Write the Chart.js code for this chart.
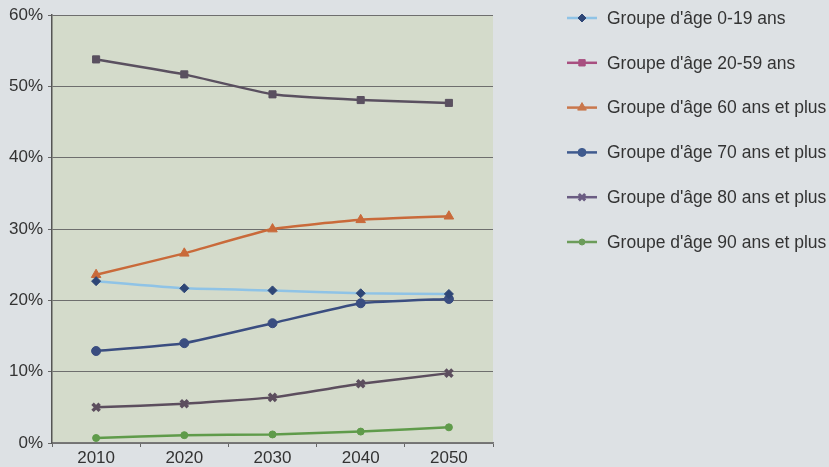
<!DOCTYPE html>
<html>
<head>
<meta charset="utf-8">
<script src="https://cdn.jsdelivr.net/npm/chart.js@4.4.1/dist/chart.umd.min.js"></script>
<style>
  html, body { margin: 0; padding: 0; background: #dde1e4; }
  #wrap { width: 829px; height: 467px; }
</style>
</head>
<body>
<div id="wrap"><canvas id="chart" width="829" height="467"></canvas></div>
<script>
/* ── Data ─────────────────────────────────────── */
const years = ['2010', '2020', '2030', '2040', '2050'];
const groupNames = [
  "Groupe d'âge 0-19 ans",
  "Groupe d'âge 20-59 ans",
  "Groupe d'âge 60 ans et plus",
  "Groupe d'âge 70 ans et plus",
  "Groupe d'âge 80 ans et plus",
  "Groupe d'âge 90 ans et plus"
];
const age0_19  = [22.7, 21.7, 21.4, 21.0, 20.9];
const age20_59 = [53.8, 51.7, 48.9, 48.1, 47.7];
const age60p   = [23.6, 26.6, 30.0, 31.3, 31.8];
const age70p   = [12.9, 14.0, 16.8, 19.6, 20.2];
const age80p   = [5.0, 5.5, 6.4, 8.3, 9.8];
const age90p   = [0.7, 1.1, 1.2, 1.6, 2.2];
const yTicks   = [0, 10, 20, 30, 40, 50, 60];

/* ── Styles ───────────────────────────────────── */
const FONT = '"Liberation Sans", Arial, sans-serif';
const lineColors   = ['#8fc3e6', '#5a5060', '#c96a3a', '#3a4d80', '#5c4e5e', '#5f9b4a'];
const markerColors = ['#2e4676', '#5a5060', '#c96a3a', '#3a4d80', '#5c4e5e', '#5f9b4a'];
const legendLine   = ['#8fc3e6', '#a84f80', '#c9774c', '#3f5a8e', '#6a5c82', '#6c9c5a'];
const legendMarker = ['#2e4676', '#a84f80', '#c9774c', '#3f5a8e', '#6a5c82', '#6c9c5a'];
const styles  = ['rectRot', 'rect', 'triangle', 'circle', 'crossRot', 'circle'];
const radii   = [4.5, 5, 5.5, 4.5, 5, 3.5];
const series  = [age0_19, age20_59, age60p, age70p, age80p, age90p];

const datasets = series.map((data, i) => ({
  label: groupNames[i],
  data,
  borderColor: lineColors[i],
  borderWidth: 2.5,
  pointStyle: styles[i],
  pointRadius: radii[i],
  pointBackgroundColor: markerColors[i],
  pointBorderColor: markerColors[i],
  pointBorderWidth: styles[i] === 'crossRot' ? 3.5 : 1,
  tension: 0.12,
  fill: false
}));

/* ── Plot background ──────────────────────────── */
const plotBg = {
  id: 'plotBg',
  beforeDraw(chart) {
    const { ctx, chartArea: a } = chart;
    ctx.save();
    ctx.fillStyle = '#d4dbcb';
    ctx.fillRect(a.left, a.top, a.right - a.left, a.bottom - a.top);
    ctx.restore();
  }
};

/* ── Legend drawn at fixed spots ──────────────── */
const sideLegend = {
  id: 'sideLegend',
  afterDraw(chart) {
    const { ctx } = chart;
    ctx.save();
    chart.data.datasets.forEach((ds, i) => {
      const y = 18 + i * 44.8;
      ctx.strokeStyle = legendLine[i];
      ctx.lineWidth = 2.5;
      ctx.beginPath();
      ctx.moveTo(567, y);
      ctx.lineTo(597, y);
      ctx.stroke();
      ctx.fillStyle = legendMarker[i];
      ctx.strokeStyle = legendMarker[i];
      ctx.lineWidth = styles[i] === 'crossRot' ? 3 : 1;
      Chart.helpers.drawPoint(ctx, { pointStyle: styles[i], radius: radii[i] - 0.5, borderWidth: ctx.lineWidth, rotation: 0 }, 582, y);
      ctx.fillStyle = '#333';
      ctx.font = '17.5px ' + FONT;
      ctx.textBaseline = 'middle';
      ctx.textAlign = 'left';
      ctx.fillText(ds.label, 607, y + 1);
    });
    ctx.restore();
  }
};

new Chart(document.getElementById('chart'), {
  type: 'line',
  data: { labels: years, datasets },
  plugins: [plotBg, sideLegend],
  options: {
    responsive: false,
    animation: false,
    devicePixelRatio: 1,
    layout: { padding: { top: 15, right: 336, left: 0, bottom: 0 } },
    plugins: { legend: { display: false }, tooltip: { enabled: false } },
    scales: {
      x: {
        offset: true,
        grid: { offset: true, drawOnChartArea: false, drawTicks: true, tickLength: 4, tickColor: '#666' },
        border: { color: '#777', width: 1.5 },
        ticks: { color: '#333', font: { family: FONT, size: 17 }, padding: 1 },
        afterFit(s) { s.height = 24; }
      },
      y: {
        min: 0,
        max: 60,
        afterBuildTicks(s) { s.ticks = yTicks.map(v => ({ value: v })); },
        grid: { color: '#6e6e6e', lineWidth: 1, tickLength: 4, tickColor: '#666' },
        border: { color: '#555', width: 1.5 },
        ticks: {
          color: '#333',
          font: { family: FONT, size: 17 },
          padding: 5,
          callback: v => v + '%'
        },
        afterFit(s) { s.width = 52; }
      }
    }
  }
});
</script>
</body>
</html>
